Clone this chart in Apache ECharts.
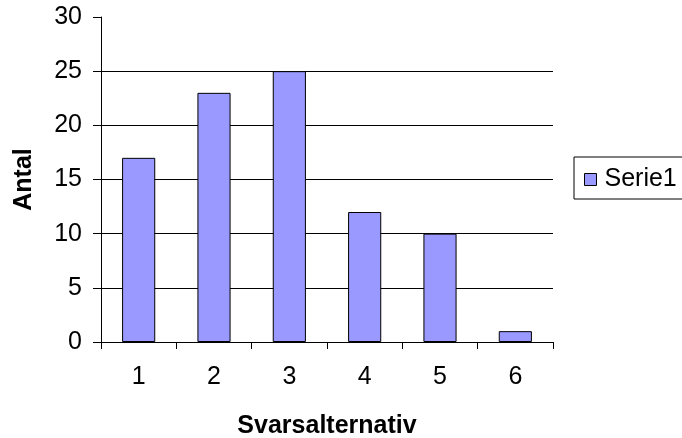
<!DOCTYPE html>
<html><head><meta charset="utf-8">
<script src="https://cdn.jsdelivr.net/npm/echarts@6/dist/echarts.min.js"></script>
<style>html,body{margin:0;padding:0;background:#fff}#c{width:682px;height:438px}</style>
</head><body><div id="c"></div>
<script>
const categories = ['1','2','3','4','5','6'];
const serie1 = [17, 23, 25, 12, 10, 1];
const seriesName = 'Serie1';
const xName = 'Svarsalternativ';
const yName = 'Antal';

const chart = echarts.init(document.getElementById('c'), null, {renderer:'canvas'});
const font = 'Liberation Sans, Arial, sans-serif';
const fs = 25;
chart.setOption({
  animation:false,
  backgroundColor:'#fff',
  textStyle:{fontFamily:font},
  grid:{left:101,right:129,top:17,bottom:96,containLabel:false,outerBoundsMode:'none'},
  legend:{
    left:574, top:157, orient:'vertical',
    data:[seriesName],
    icon:'rect', itemWidth:12, itemHeight:12, itemGap:0,
    borderColor:'#000', borderWidth:1,
    padding:[10,20,7,10],
    itemStyle:{borderColor:'#000',borderWidth:1},
    textStyle:{fontSize:fs,color:'#000',fontFamily:font,padding:[0,0,0,3]}
  },
  xAxis:{
    type:'category', data:categories,
    name:xName, nameLocation:'middle', nameGap:72,
    nameTextStyle:{fontSize:fs,fontWeight:'bold',color:'#000',fontFamily:font},
    axisLine:{show:true,lineStyle:{color:'#000',width:1}},
    axisTick:{show:true,alignWithLabel:false,interval:0,length:7,lineStyle:{color:'#000'}},
    axisLabel:{fontSize:fs,color:'#000',margin:23,fontFamily:font}
  },
  yAxis:{
    type:'value', min:0, max:30, interval:5,
    name:yName, nameLocation:'middle', nameGap:64, nameRotate:90,
    nameTextStyle:{fontSize:fs,fontWeight:'bold',color:'#000',fontFamily:font},
    axisLine:{show:true,lineStyle:{color:'#000',width:1}},
    axisTick:{show:true,length:8,lineStyle:{color:'#000'}},
    axisLabel:{fontSize:fs,color:'#000',margin:19,fontFamily:font},
    splitLine:{show:true,showMaxLine:false,lineStyle:{color:'#000',width:1}}
  },
  series:[{
    type:'bar', name:seriesName, data:serie1,
    barWidth:'44%',
    itemStyle:{color:'#9999FF',borderColor:'#000',borderWidth:1}
  }]
});
</script></body></html>
